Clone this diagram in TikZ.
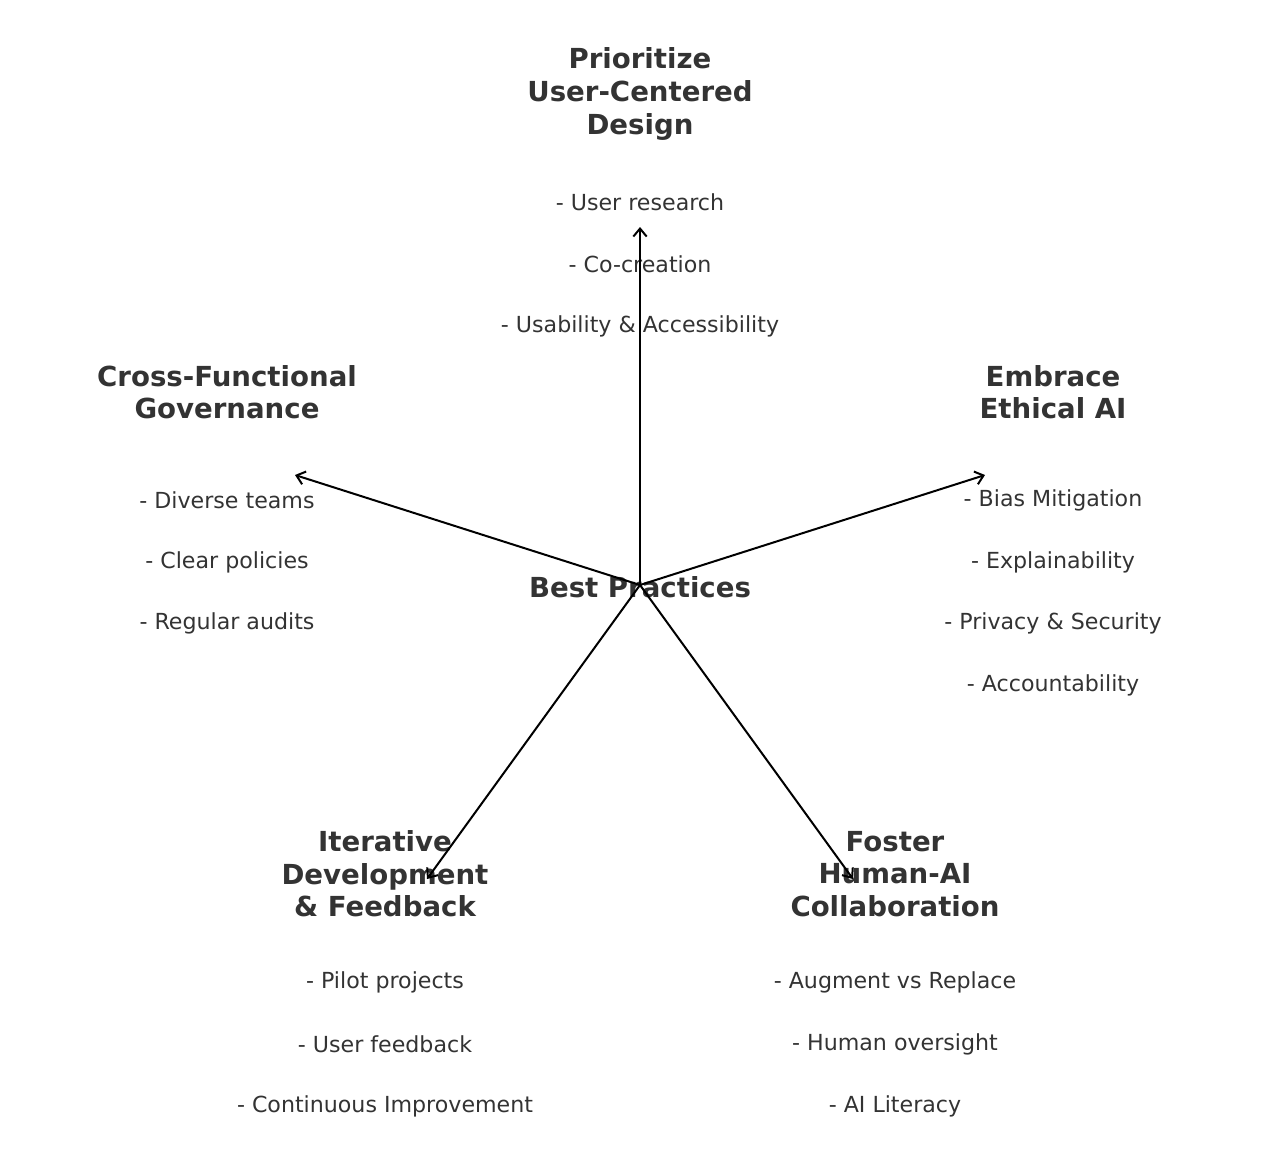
\documentclass[tikz,border=0pt]{standalone}
\usepackage{fontspec}
\setmainfont{DejaVu Sans}
\usetikzlibrary{arrows.meta}
\definecolor{txt}{HTML}{333333}
\tikzset{
 ttl/.style={text=txt,font=\fontsize{20.7}{24.4}\selectfont\bfseries,align=center,inner sep=0pt},
 itm/.style={text=txt,font=\fontsize{16.6}{18}\selectfont,inner sep=0pt},
 arr/.style={line width=1.5pt,-{Straight Barb[length=6pt,width=10pt,line width=1.5pt]}}
}
\begin{document}
\begin{tikzpicture}[x=0.75pt,y=-0.75pt]
\useasboundingbox (0,0) rectangle (1280,1172);
\coordinate (c) at (640,585);
\coordinate (eT) at (640,227);
\coordinate (eL) at (295,475);
\coordinate (eR) at (985,475);
\coordinate (eBL) at (427,879);
\coordinate (eBR) at (853,879);
\node[ttl] (center) at (640,587) {Best Practices};
\node[ttl] (tT) at (640,94) {Prioritize\\User-Centered\\Design};
\node[itm] (t1) at (640,202) {- User research};
\node[itm] (t2) at (640,264) {- Co-creation};
\node[itm] (t3) at (640,326) {- Usability \& Accessibility};
\node[ttl] (tL) at (227,392) {Cross-Functional\\Governance};
\node[itm] (l1) at (227,500) {- Diverse teams};
\node[itm] (l2) at (227,562) {- Clear policies};
\node[itm] (l3) at (227,623) {- Regular audits};
\node[ttl] (tR) at (1053,392) {Embrace\\Ethical AI};
\node[itm] (r1) at (1053,500) {- Bias Mitigation};
\node[itm] (r2) at (1053,562) {- Explainability};
\node[itm] (r3) at (1053,623) {- Privacy \& Security};
\node[itm] (r4) at (1053,685) {- Accountability};
\node[ttl] (tBL) at (385,874) {Iterative\\Development\\\& Feedback};
\node[itm] (b1) at (385,982) {- Pilot projects};
\node[itm] (b2) at (385,1044) {- User feedback};
\node[itm] (b3) at (385,1106) {- Continuous Improvement};
\node[ttl] (tBR) at (895,874) {Foster\\Human-AI\\Collaboration};
\node[itm] (c1) at (895,982) {- Augment vs Replace};
\node[itm] (c2) at (895,1044) {- Human oversight};
\node[itm] (c3) at (895,1106) {- AI Literacy};
\foreach \e in {eT,eL,eR,eBL,eBR} \draw[arr] (c) -- (\e);
\end{tikzpicture}
\end{document}
